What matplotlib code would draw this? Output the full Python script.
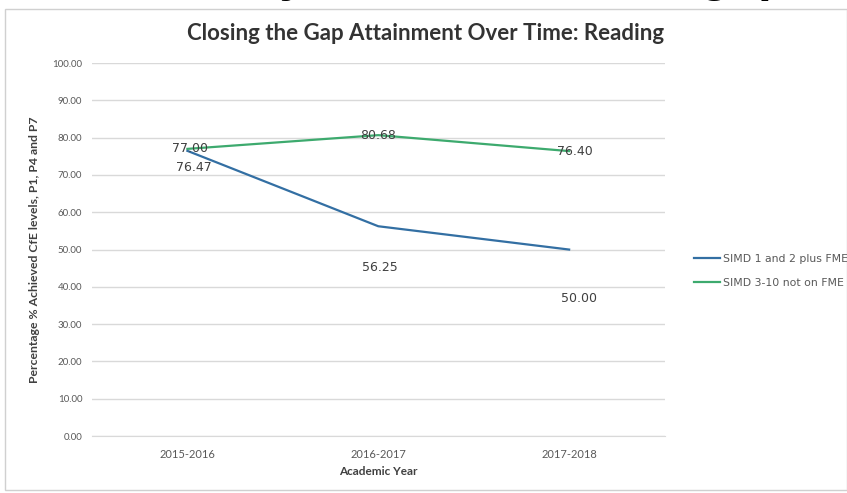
import matplotlib.pyplot as plt
from matplotlib.patches import Rectangle

years = ["2015-2016", "2016-2017", "2017-2018"]
simd_low = [76.47, 56.25, 50.00]
simd_high = [77.00, 80.68, 76.40]
series_names = ["SIMD 1 and 2 plus FME", "SIMD 3-10 not on FME"]
yticks = [0, 10, 20, 30, 40, 50, 60, 70, 80, 90, 100]

blue = "#336fa3"
green = "#3daa6e"

fig = plt.figure(figsize=(8.47, 4.93), dpi=100)

# cropped slide heading above the chart, only the descenders show
fig.text(0.136, 1.0175, "Literacy Attainment: the gap", fontsize=36,
         fontweight="bold", family="Liberation Sans", ha="left", va="baseline")

# chart frame
fig.patches.append(Rectangle((0.006, 0.006), 0.994, 0.976, transform=fig.transFigure,
                             fill=False, edgecolor="#d0d0d0", lw=1))

ax = fig.add_axes([0.1086, 0.1156, 0.676, 0.7564])
x = range(len(years))
l1, = ax.plot(x, simd_low, color=blue, lw=1.6)
l2, = ax.plot(x, simd_high, color=green, lw=1.6)

# label offsets (points) as Excel placed them
low_off = [(5, -12), (1, -30), (7, -35)]
high_off = [(2, 0), (0, 0), (4, 0)]
for i, v in enumerate(simd_low):
    ax.annotate(f"{v:.2f}", (i, v), xytext=low_off[i], textcoords="offset points",
                ha="center", va="center", fontsize=9, color="#404040")
for i, v in enumerate(simd_high):
    ax.annotate(f"{v:.2f}", (i, v), xytext=high_off[i], textcoords="offset points",
                ha="center", va="center", fontsize=9, color="#404040")

ax.set_xlim(-0.5, 2.5)
ax.set_ylim(0, 100)
ax.set_yticks(yticks)
ax.set_yticklabels([f"{t:.2f}" for t in yticks], fontsize=7, color="#595959",
                   family="Lato")
ax.set_xticks(list(x))
ax.set_xticklabels(years, fontsize=8, color="#595959", family="Lato")
ax.tick_params(axis="y", length=0, pad=7)
ax.tick_params(axis="x", length=0, pad=9)
ax.grid(axis="y", color="#d9d9d9", lw=1)
ax.set_axisbelow(True)
for s in ["top", "right", "left"]:
    ax.spines[s].set_visible(False)
ax.spines["bottom"].set_color("#d9d9d9")

ax.set_xlabel("Academic Year", fontsize=8.5, fontweight="bold", color="#404040",
              family="Lato", labelpad=5)
ax.set_ylabel("Percentage % Achieved CfE levels, P1, P4 and P7", fontsize=8.8,
              fontweight="bold", color="#404040", family="Lato", labelpad=9)
fig.text(0.503, 0.933, "Closing the Gap Attainment Over Time: Reading", fontsize=16,
         fontweight="bold", color="#333333", family="Lato", ha="center", va="center")

fig.legend([l1, l2], series_names, loc="center left", bbox_to_anchor=(0.808, 0.45),
           frameon=False, fontsize=7.8, handlelength=2.4, handletextpad=0.3,
           labelspacing=1.3, labelcolor="#595959")

fig.savefig("out.png", dpi=100)
